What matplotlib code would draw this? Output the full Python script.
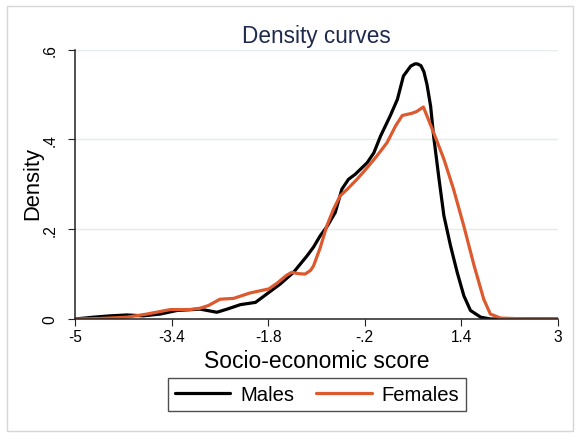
import matplotlib
matplotlib.use("Agg")
import matplotlib.pyplot as plt
from matplotlib.patches import Rectangle

# values
males_x = [-5.0, -4.70, -4.42, -4.14, -3.87, -3.59, -3.31, -2.93, -2.65, -2.48,
           -2.26, -2.01, -1.82, -1.60, -1.38, -1.16, -1.05, -0.94, -0.83, -0.69,
           -0.58, -0.47, -0.36, -0.16, -0.05, 0.06, 0.22, 0.34, 0.44, 0.56,
           0.63, 0.67, 0.73, 0.78, 0.83, 0.89, 0.94, 1.03, 1.11, 1.22,
           1.33, 1.44, 1.55, 1.72, 1.88, 2.3, 3.0]
males_y = [0.0, 0.004, 0.007, 0.009, 0.007, 0.011, 0.019, 0.022, 0.015, 0.022,
           0.032, 0.037, 0.056, 0.078, 0.104, 0.140, 0.160, 0.185, 0.205, 0.237,
           0.289, 0.311, 0.322, 0.348, 0.370, 0.407, 0.452, 0.489, 0.541, 0.563,
           0.568, 0.568, 0.564, 0.550, 0.522, 0.474, 0.407, 0.311, 0.230, 0.163,
           0.104, 0.052, 0.019, 0.004, 0.0, 0.0, 0.0]

females_x = [-5.0, -4.6, -4.14, -3.81, -3.42, -3.10, -2.93, -2.79, -2.60, -2.37,
             -2.10, -1.79, -1.65, -1.50, -1.41, -1.30, -1.19, -1.10, -1.05, -0.94,
             -0.83, -0.72, -0.61, -0.49, -0.33, -0.16, 0.0, 0.17, 0.31, 0.42,
             0.58, 0.66, 0.77, 0.83, 0.94, 1.11, 1.27, 1.44, 1.61, 1.77,
             1.88, 2.05, 2.5, 3.0]
females_y = [0.0, 0.001, 0.004, 0.011, 0.021, 0.021, 0.024, 0.030, 0.044, 0.046,
             0.058, 0.067, 0.080, 0.097, 0.104, 0.101, 0.100, 0.108, 0.118, 0.158,
             0.207, 0.244, 0.274, 0.289, 0.311, 0.337, 0.363, 0.393, 0.430, 0.453,
             0.458, 0.462, 0.472, 0.452, 0.415, 0.356, 0.289, 0.207, 0.119, 0.044,
             0.011, 0.002, 0.0, 0.0]

x_ticks = [-5, -3.4, -1.8, -0.2, 1.4, 3]
x_tick_labels = ["-5", "-3.4", "-1.8", "-.2", "1.4", "3"]
y_ticks = [0, 0.2, 0.4, 0.6]
y_tick_labels = ["0", ".2", ".4", ".6"]

plt.rcParams["font.family"] = ["Liberation Sans", "DejaVu Sans"]

W, H = 579, 439
fig = plt.figure(figsize=(W / 100, H / 100), dpi=100)
fig.patch.set_facecolor("white")

# light frame round the whole graph
fig.patches.append(Rectangle((6.5 / W, 1 - 431.5 / H), (573 - 6.5) / W, (431.5 - 6.5) / H,
                             transform=fig.transFigure, fill=False,
                             edgecolor="#d6d6d6", linewidth=1.0))

ax = fig.add_axes([75 / W, 1 - 320 / H, (558 - 75) / W, (320 - 50.5) / H])
ax.plot(males_x, males_y, color="black", linewidth=2.3, label="Males",
        solid_joinstyle="round", solid_capstyle="round")
ax.plot(females_x, females_y, color="#dd5a2e", linewidth=2.3, label="Females",
        solid_joinstyle="round", solid_capstyle="round")

ax.set_xlim(-5, 3)
ax.set_ylim(0, 0.6)
ax.set_xticks(x_ticks)
ax.set_xticklabels(x_tick_labels)
ax.set_yticks(y_ticks)
ax.set_yticklabels(y_tick_labels, rotation=90, va="center", ha="center")

ax.grid(axis="y", color="#e3ebee", linewidth=1.0)
ax.set_axisbelow(True)
for side in ("top", "right"):
    ax.spines[side].set_visible(False)
for side in ("left", "bottom"):
    ax.spines[side].set_color("#222222")
    ax.spines[side].set_linewidth(1.1)
ax.tick_params(axis="both", direction="out", length=5, width=0.8,
               color="#222222", labelsize=11.2)
ax.tick_params(axis="x", pad=2.5)
ax.tick_params(axis="y", pad=13)

ax.set_xlabel("Socio-economic score", fontsize=16.5, labelpad=3)
fig.text(33 / W, 1 - 184 / H, "Density", rotation=90, fontsize=15.8,
         ha="center", va="center")
fig.text(316.5 / W, 1 - 42.7 / H, "Density curves", fontsize=16.3,
         color="#1f2b4d", ha="center", va="baseline")

fig.legend(loc="center", bbox_to_anchor=(317 / W, 1 - 395.5 / H), ncol=2,
           fontsize=14.6, frameon=True, fancybox=False, edgecolor="#222222",
           handlelength=2.75, handletextpad=0.5, columnspacing=1.05,
           borderpad=0.35, borderaxespad=0).get_frame().set_linewidth(1.0)

fig.savefig("out.png", dpi=100, facecolor="white")
